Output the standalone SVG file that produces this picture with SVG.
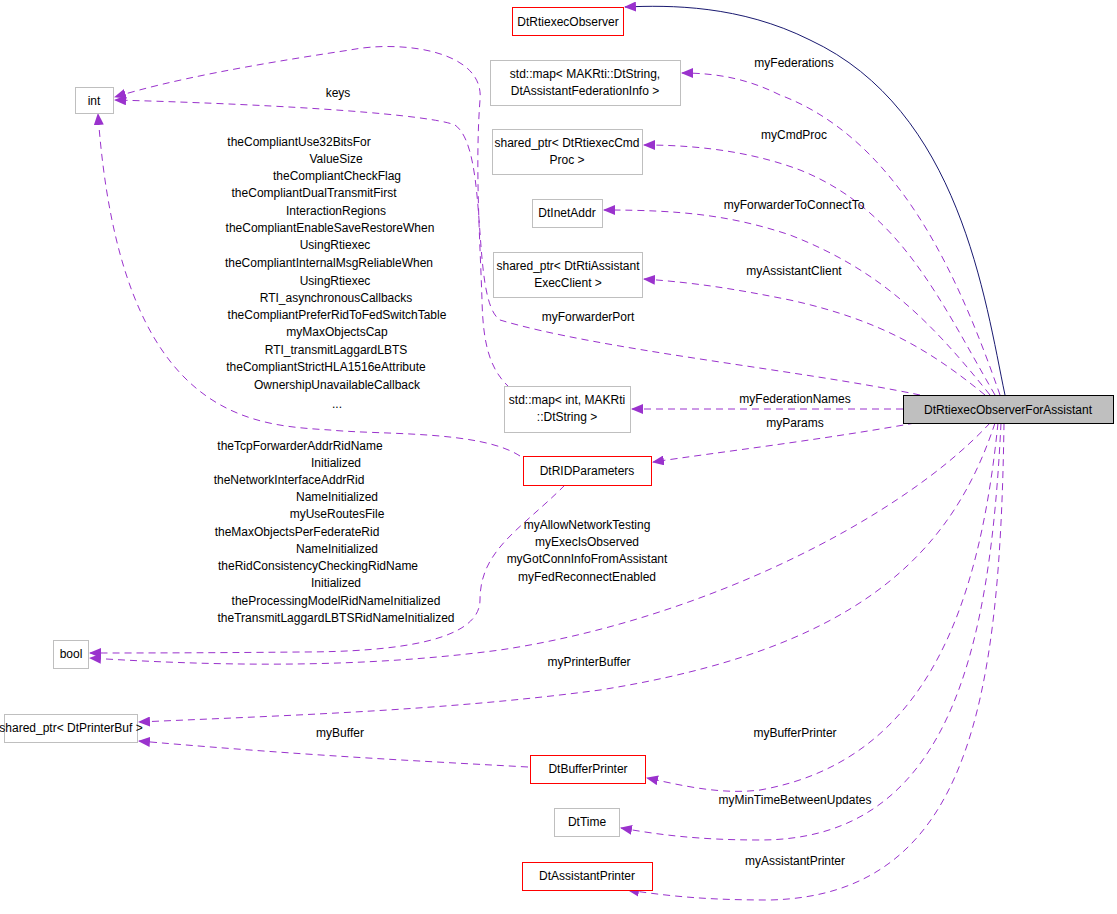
<svg xmlns="http://www.w3.org/2000/svg" width="1117" height="914" viewBox="0 0 1117 914">
<style>
text{font-family:"Liberation Sans",Arial,sans-serif;font-size:12px;fill:#000}
.n rect{fill:#fff;stroke:#bfbfbf;stroke-width:1}
.r rect{stroke:#ff0000}
.m{text-anchor:middle}
.e path{fill:none;stroke:#9a32cd;stroke-width:1;stroke-dasharray:7,5}
</style>
<defs>
<marker id="p" markerWidth="12" markerHeight="10" refX="11" refY="5" orient="auto" markerUnits="userSpaceOnUse"><path d="M0,0 L12,5 L0,10 Z" fill="#9a32cd"/></marker>
<marker id="b" markerWidth="12" markerHeight="10" refX="11" refY="5" orient="auto" markerUnits="userSpaceOnUse"><path d="M0,0 L12,5 L0,10 Z" fill="#191970"/></marker>
</defs>
<rect width="1117" height="914" fill="#fff"/>
<g class="e" id="connectors">
<path d="M1005,395 C985,300 960,110 810,40 C740,5 670,5 625,7" stroke="#191970" style="stroke:#191970;stroke-dasharray:none" marker-end="url(#p)"/>
<path d="M1000,395 C960,280 900,140 780,95 C750,80 720,73 682,73" marker-end="url(#p)"/>
<path d="M995,395 C940,300 900,210 800,170 C760,155 710,145 644,145" marker-end="url(#p)"/>
<path d="M990,395 C930,320 880,270 790,235 C730,215 680,210 604,210" marker-end="url(#p)"/>
<path d="M985,395 C930,350 880,320 790,300 C740,290 700,283 644,279" marker-end="url(#p)"/>
<path d="M920,395 C800,370 600,350 500,320 C470,300 490,150 455,125 C430,115 300,105 115,100" marker-end="url(#p)"/>
<path d="M903,409 L632,409" marker-end="url(#p)"/>
<path d="M915,423 C820,440 720,452 653,462" marker-end="url(#p)"/>
<path d="M510,388 C490,370 483,345 482,300 C480,240 475,165 480,100 C485,50 400,40 350,50 C250,65 170,80 115,97" marker-end="url(#p)"/>
<path d="M520,456 C480,430 380,435 330,430 C250,425 120,420 98,114" marker-end="url(#p)"/>
<path d="M565,485 C520,530 480,550 480,600 C480,640 400,652 300,652 C200,653 120,653 90,653" marker-end="url(#p)"/>
<path d="M990,423 C900,520 700,620 500,650 C350,670 200,665 90,658" marker-end="url(#p)"/>
<path d="M995,423 C950,560 850,650 600,690 C450,710 300,715 139,722" marker-end="url(#p)"/>
<path d="M528,767 C400,760 300,755 139,741" marker-end="url(#p)"/>
<path d="M998,423 C980,600 930,760 760,790 C720,795 680,785 647,778" marker-end="url(#p)"/>
<path d="M1001,423 C990,650 950,840 760,840 C700,840 660,835 621,828" marker-end="url(#p)"/>
<path d="M1004,423 C1000,700 970,895 770,900 C720,900 680,898 628,890" marker-end="url(#p)"/>
</g>
<g id="DtRtiexecObserver" class="n r"><rect x="512.5" y="7.5" width="111" height="28"/><text class="m" x="568" y="26">DtRtiexecObserver</text></g>
<g id="mapFed" class="n"><rect x="490.5" y="60.5" width="190" height="45"/><text class="m" x="585" y="78">std::map&lt; MAKRti::DtString,</text><text class="m" x="585" y="95">DtAssistantFederationInfo &gt;</text></g>
<g id="cmdProc" class="n"><rect x="492.5" y="129.5" width="150" height="45"/><text class="m" x="567" y="147">shared_ptr&lt; DtRtiexecCmd</text><text class="m" x="567" y="164">Proc &gt;</text></g>
<g id="DtInetAddr" class="n"><rect x="532.5" y="199.5" width="70" height="28"/><text class="m" x="567" y="217">DtInetAddr</text></g>
<g id="assistClient" class="n"><rect x="493.5" y="252.5" width="149" height="45"/><text class="m" x="568" y="270">shared_ptr&lt; DtRtiAssistant</text><text class="m" x="568" y="287">ExecClient &gt;</text></g>
<g id="mapInt" class="n"><rect x="504.5" y="386.5" width="126" height="46"/><text class="m" x="567" y="404">std::map&lt; int, MAKRti</text><text class="m" x="567" y="421">::DtString &gt;</text></g>
<g id="main" class="n"><rect x="903.5" y="395.5" width="210" height="28" style="fill:#bfbfbf;stroke:#000"/><text class="m" x="1008" y="414">DtRtiexecObserverForAssistant</text></g>
<g id="DtRIDParameters" class="n r"><rect x="523.5" y="456.5" width="128" height="29"/><text class="m" x="587" y="475">DtRIDParameters</text></g>
<g id="int" class="n"><rect x="75.5" y="87.5" width="38" height="26"/><text class="m" x="94" y="105">int</text></g>
<g id="bool" class="n"><rect x="53.5" y="640.5" width="35" height="28"/><text class="m" x="71" y="658">bool</text></g>
<g id="printerBuf" class="n"><rect x="4.5" y="714.5" width="133" height="28"/><text class="m" x="71" y="732">shared_ptr&lt; DtPrinterBuf &gt;</text></g>
<g id="DtBufferPrinter" class="n r"><rect x="530.5" y="755.5" width="115" height="28"/><text class="m" x="588" y="773">DtBufferPrinter</text></g>
<g id="DtTime" class="n"><rect x="554.5" y="808.5" width="65" height="28"/><text class="m" x="587" y="826">DtTime</text></g>
<g id="DtAssistantPrinter" class="n r"><rect x="522.5" y="862.5" width="130" height="28"/><text class="m" x="587" y="880">DtAssistantPrinter</text></g>
<g id="labels" class="m">
<text x="794" y="67">myFederations</text>
<text x="794" y="139">myCmdProc</text>
<text x="794" y="209">myForwarderToConnectTo</text>
<text x="794" y="275">myAssistantClient</text>
<text x="588" y="321">myForwarderPort</text>
<text x="338" y="97">keys</text>
<text x="795" y="403">myFederationNames</text>
<text x="795" y="427">myParams</text>
<text x="299" y="146">theCompliantUse32BitsFor</text>
<text x="336" y="163">ValueSize</text>
<text x="337" y="180">theCompliantCheckFlag</text>
<text x="314" y="197">theCompliantDualTransmitFirst</text>
<text x="336" y="215">InteractionRegions</text>
<text x="330" y="232">theCompliantEnableSaveRestoreWhen</text>
<text x="335" y="249">UsingRtiexec</text>
<text x="329" y="267">theCompliantInternalMsgReliableWhen</text>
<text x="335" y="285">UsingRtiexec</text>
<text x="336" y="302">RTI_asynchronousCallbacks</text>
<text x="337" y="319">theCompliantPreferRidToFedSwitchTable</text>
<text x="337" y="336">myMaxObjectsCap</text>
<text x="336" y="354">RTI_transmitLaggardLBTS</text>
<text x="326" y="371">theCompliantStrictHLA1516eAttribute</text>
<text x="337" y="389">OwnershipUnavailableCallback</text>
<text x="337" y="408">...</text>
<text x="300" y="450">theTcpForwarderAddrRidName</text>
<text x="336" y="467">Initialized</text>
<text x="289" y="484">theNetworkInterfaceAddrRid</text>
<text x="337" y="501">NameInitialized</text>
<text x="337" y="518">myUseRoutesFile</text>
<text x="297" y="536">theMaxObjectsPerFederateRid</text>
<text x="337" y="553">NameInitialized</text>
<text x="318" y="570">theRidConsistencyCheckingRidName</text>
<text x="336" y="587">Initialized</text>
<text x="336" y="605">theProcessingModelRidNameInitialized</text>
<text x="336" y="622">theTransmitLaggardLBTSRidNameInitialized</text>
<text x="587" y="529">myAllowNetworkTesting</text>
<text x="587" y="546">myExecIsObserved</text>
<text x="587" y="563">myGotConnInfoFromAssistant</text>
<text x="587" y="581">myFedReconnectEnabled</text>
<text x="589" y="666">myPrinterBuffer</text>
<text x="340" y="737">myBuffer</text>
<text x="795" y="737">myBufferPrinter</text>
<text x="795" y="804">myMinTimeBetweenUpdates</text>
<text x="795" y="865">myAssistantPrinter</text>
</g>
</svg>
